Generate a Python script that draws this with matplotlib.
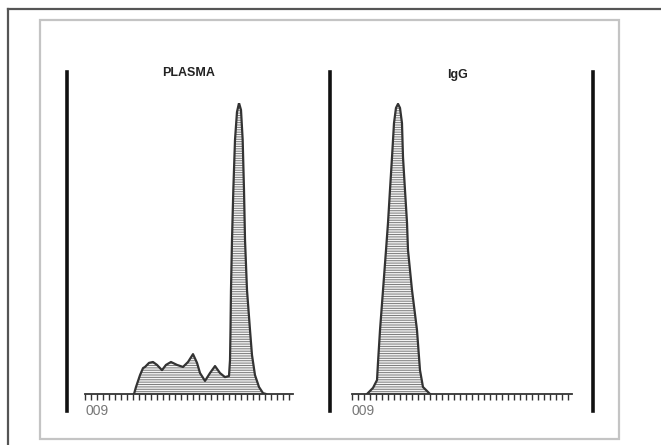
import numpy as np
import matplotlib.pyplot as plt
from matplotlib.lines import Line2D
from matplotlib.patches import Rectangle

# panel titles and scale labels
titles = ['PLASMA', 'IgG']
scale_label = '009'

# PLASMA profile: position (tick units) and relative intensity (%)
plasma_x = [8.17, 8.5, 9.17, 9.67, 10.0, 10.67, 11.33, 12.0, 12.83, 13.5, 14.33,
            15.33, 16.33, 17.17, 18.0, 18.67, 19.17, 20.0, 20.83, 21.67, 22.5,
            23.33, 24.0, 24.17, 24.25, 24.33, 24.5, 24.72, 25.0, 25.33, 25.67,
            26.0, 26.28, 26.5, 26.67, 27.0, 27.5, 27.83, 28.33, 29.0, 29.67, 30.17]
plasma_y = [0, 2.4, 6.5, 8.9, 9.3, 10.7, 11.0, 10.0, 8.2, 10.0, 11.0,
            10.0, 9.3, 11.0, 13.7, 10.7, 7.2, 4.5, 7.2, 9.6, 7.2,
            5.8, 6.2, 11.7, 22.0, 35.7, 52.9, 70.1, 87.3, 96.9, 100,
            97.6, 87.3, 70.1, 52.9, 35.7, 22.0, 13.4, 6.5, 2.4, 0.3, 0]

# IgG profile
igg_x = [2.5, 3.5, 4.17, 4.33, 4.67, 5.17, 5.67, 6.0, 6.33, 6.67, 7.0, 7.33,
         7.67, 8.0, 8.33, 8.5, 8.83, 9.17, 9.33, 10.0, 10.83, 11.33, 11.83, 13.0]
igg_y = [0, 2.1, 4.8, 10.7, 22.0, 35.7, 49.5, 58.8, 70.1, 81.4, 93.1, 98.3,
         99.7, 98.3, 93.1, 81.4, 70.1, 58.8, 49.5, 35.7, 22.0, 8.2, 2.4, 0]

n_ticks = [34, 36]

plt.rcParams['font.family'] = ['Liberation Sans', 'DejaVu Sans']
plt.rcParams['hatch.linewidth'] = 0.7

W, H = 661, 445
fig = plt.figure(figsize=(W / 100, H / 100), dpi=100)

def fx(px):
    return px / W

def fy(py):
    return 1 - py / H

# frames
fig.add_artist(Line2D([fx(8), fx(8)], [fy(9), 0], color='#555555', lw=1.6))
fig.add_artist(Line2D([fx(8), 1], [fy(9), fy(9)], color='#555555', lw=1.6))
fig.add_artist(Rectangle((fx(40), fy(439)), fx(619) - fx(40), fy(20) - fy(439),
                         fill=False, edgecolor='#c4c4c4', lw=1.6))

# thick vertical separators
for px in [67, 330, 593]:
    fig.add_artist(Line2D([fx(px), fx(px)], [fy(411), fy(72)], color='#111111', lw=2.6))

profiles = [(plasma_x, plasma_y), (igg_x, igg_y)]
axis_left = [85, 352]
tick_px = 6

for i, (xs, ys) in enumerate(profiles):
    width_px = (n_ticks[i] + 0.67) * tick_px
    ax = fig.add_axes([fx(axis_left[i]), fy(394), width_px / W, fy(103) - fy(394)])
    ax.set_xlim(0, n_ticks[i] + 0.67)
    ax.set_ylim(0, 100)
    ax.patch.set_alpha(0)
    ax.fill_between(xs, 0, ys, facecolor='#f4f4f4', edgecolor='#7a7a7a',
                    linewidth=0, hatch='-------')
    ax.plot(xs, ys, color='#333333', lw=1.6, solid_joinstyle='round')
    for side in ['top', 'right', 'left']:
        ax.spines[side].set_visible(False)
    ax.spines['bottom'].set_color('#333333')
    ax.spines['bottom'].set_linewidth(1.3)
    ax.set_xticks(np.arange(0, n_ticks[i] + 1))
    ax.set_yticks([])
    ax.tick_params(axis='x', direction='out', length=4, width=1.0,
                   color='#333333', labelbottom=False)
    fig.text(fx(axis_left[i]), fy(411), scale_label, color='#777777',
             fontsize=10, ha='left', va='center')

fig.text(fx(189), fy(73), titles[0], fontsize=9, fontweight='bold',
         ha='center', va='center', color='#222222')
fig.text(fx(457), fy(75), titles[1], fontsize=9, fontweight='bold',
         ha='center', va='center', color='#222222')

fig.savefig('out.png', dpi=100)
